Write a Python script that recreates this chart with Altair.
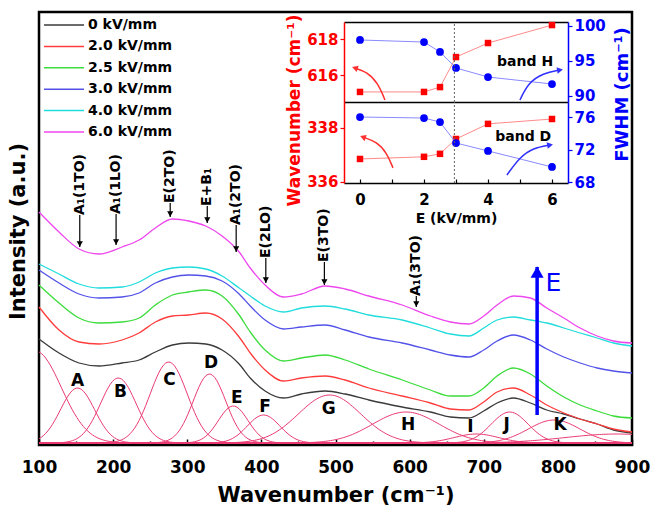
import altair as alt
import pandas as pd

FONT = "DejaVu Sans"
PLOT_W, PLOT_H = 593, 433

# ---------------- Raman spectra under increasing electric field ----------------
wavenumber = [100, 127, 154, 181, 212, 235, 257, 280, 302, 325, 347, 370, 385, 405, 430,
              454, 486, 513, 545, 590, 628, 655, 680, 700, 718, 740, 763, 785, 808, 830,
              853, 875, 900]
field_labels = ["0 kV/mm", "2.0 kV/mm", "2.5 kV/mm", "3.0 kV/mm", "4.0 kV/mm", "6.0 kV/mm"]
field_colors = ["#3a3a3a", "#ff3c3c", "#3cdc3c", "#5252e8", "#20dcdc", "#ee46ee"]

intensity_0kv = [106, 92, 82, 79, 82, 85, 93, 100, 102, 101, 95, 81, 67, 54, 47, 51, 54, 51,
                 45, 38, 33, 28, 27, 34, 42, 47, 42, 35, 31, 26, 21, 15, 12]
intensity_20kv = [138, 115, 103, 101, 105, 112, 123, 129, 130, 132, 126, 108, 92, 75, 64, 67,
                  69, 65, 57, 49, 42, 36, 35, 43, 53, 57, 50, 40, 32, 26, 21, 16, 13]
intensity_25kv = [160, 142, 127, 122, 123, 127, 140, 150, 153, 155, 149, 130, 113, 95, 84, 87,
                  90, 85, 76, 65, 55, 49, 49, 57, 69, 77, 71, 59, 48, 40, 34, 29, 27]
intensity_30kv = [175, 162, 151, 147, 148, 152, 162, 168, 170, 169, 164, 151, 139, 125, 116,
                  118, 120, 115, 108, 102, 95, 90, 88, 95, 104, 110, 105, 96, 88, 82, 77, 74, 72]
intensity_40kv = [181, 171, 161, 157, 158, 163, 172, 177, 178, 176, 169, 157, 149, 139, 133,
                  137, 139, 136, 130, 125, 117, 111, 109, 117, 125, 128, 125, 122, 117, 112,
                  107, 102, 99]
intensity_60kv = [233, 213, 196, 191, 198, 205, 217, 226, 224, 219, 209, 193, 177, 160, 148,
                  151, 159, 156, 149, 140, 129, 123, 121, 129, 140, 149, 147, 137, 127, 117,
                  109, 104, 102]

# ---------------- fitted Gaussian bands of the 0 kV/mm spectrum ----------------
band_centers = [95, 152, 207, 275, 330, 362, 403, 492, 595, 690, 735, 795, 880]
band_heights = [92, 55, 65, 81, 69, 37, 28, 48, 31, 9, 31, 23, 9]
band_widths = [35, 23, 24, 25, 22, 20, 22, 42, 45, 30, 25, 35, 70]
fit_baseline = 2

band_letters = ["A", "B", "C", "D", "E", "F", "G", "H", "I", "J", "K"]
letter_wn = [152, 210, 276, 332, 367, 405, 491, 598, 682, 731, 803]
letter_level = [64, 53, 65, 82, 47, 38, 36, 20, 18, 20, 20]

# ---------------- phonon mode assignments ----------------
mode_names = ["A₁(1TO)", "A₁(1LO)", "E(2TO)", "E+B₁", "A₁(2TO)", "E(2LO)", "E(3TO)", "A₁(3TO)"]
mode_wn = [155, 204, 277, 327, 366, 406, 485, 609]
mode_label_base = [230, 231, 242, 239, 220, 187, 183, 149]
mode_tip = [198, 200, 228, 222, 193, 162, 160, 138]

# field direction arrow
field_arrow_wn = [772]
field_arrow_start = [30]
field_arrow_end = [178]
field_text_wn = [794]
field_text_level = [162]

# ---------------- inset: band H and band D versus field ----------------
field_kv = [0, 2, 2.5, 3, 4, 6]
wn_band_H = [615.06, 615.06, 615.33, 617.0, 617.78, 618.78]
fwhm_band_H = [98.0, 97.71, 96.29, 94.0, 92.71, 91.71]
wn_band_D = [336.85, 336.93, 337.04, 337.59, 338.15, 338.33]
fwhm_band_D = [76.0, 75.88, 75.38, 72.8, 71.83, 69.85]
threshold_kv = 2.95

# curved guide arrows in the inset (field, value)
arrow_H_red_E = [0.78, 0.56, 0.22, -0.16]
arrow_H_red_v = [614.61, 615.56, 616.17, 616.39]
arrow_H_blue_E = [5.0, 5.25, 5.72, 6.25]
arrow_H_blue_v = [89.43, 91.85, 93.28, 93.71]
arrow_D_red_E = [1.03, 0.84, 0.53, 0.09]
arrow_D_red_v = [336.52, 337.07, 337.48, 337.66]
arrow_D_blue_E = [4.59, 5.0, 5.41, 5.94]
arrow_D_blue_v = [68.86, 71.08, 72.19, 72.56]

# ---------------- data tables ----------------
spectra_rows = []
for label, values in zip(field_labels, [intensity_0kv, intensity_20kv, intensity_25kv,
                                        intensity_30kv, intensity_40kv, intensity_60kv]):
    for w, v in zip(wavenumber, values):
        spectra_rows.append({"wn": w, "I": v, "field": label})
spectra_df = pd.DataFrame(spectra_rows)

bands_df = pd.DataFrame({"center": band_centers, "height": band_heights, "width": band_widths})
letters_df = pd.DataFrame({"letter": band_letters, "wn": letter_wn, "I": letter_level})
modes_df = pd.DataFrame({"name": mode_names, "wn": mode_wn, "base": mode_label_base,
                         "tip": mode_tip})
field_arrow_df = pd.DataFrame({"wn": field_arrow_wn, "start": field_arrow_start,
                               "end": field_arrow_end})
field_text_df = pd.DataFrame({"wn": field_text_wn, "I": field_text_level, "t": ["E"]})
legend_df = pd.DataFrame({"label": field_labels, "slot": list(range(len(field_labels)))})
inset_df = pd.DataFrame({"E": field_kv, "WH": wn_band_H, "FH": fwhm_band_H,
                         "WD": wn_band_D, "FD": fwhm_band_D})

# ---------------- scales ----------------
wn_scale = alt.Scale(domain=[100, 900], nice=False, zero=False)
int_scale = alt.Scale(domain=[0, PLOT_H], nice=False, zero=False)
color_scale = alt.Scale(domain=field_labels, range=field_colors)
slot_scale = alt.Scale(domain=[0, 5], range=[13, 120], nice=False, zero=False)

E_scale = alt.Scale(domain=[-0.5, 6.5], range=[305, 529], nice=False, zero=False)
WH_scale = alt.Scale(domain=[614.5, 618.95], range=[90, 10], nice=False, zero=False)
FH_scale = alt.Scale(domain=[89.14, 100.57], range=[90, 10], nice=False, zero=False)
WD_scale = alt.Scale(domain=[335.96, 338.96], range=[171, 90], nice=False, zero=False)
FD_scale = alt.Scale(domain=[67.88, 77.85], range=[171, 90], nice=False, zero=False)

RED, BLUE = "#ff0000", "#0000ff"


def wn_x(axis=None, field="wn"):
    return alt.X(f"{field}:Q", scale=wn_scale, axis=axis)


def int_y(field="I", axis=None):
    return alt.Y(f"{field}:Q", scale=int_scale, axis=axis)


# ---------------- main panel ----------------
bottom_axis = alt.Axis(orient="bottom", values=list(range(100, 901, 100)), ticks=False,
                       tickSize=0, domain=False, grid=False, labelFontSize=17,
                       labelFontWeight="bold", labelColor="black", labelPadding=14,
                       labelFlush=False, title="Wavenumber (cm⁻¹)", titleFontSize=21,
                       titleFontWeight="bold", titlePadding=9, titleColor="black")
left_axis = alt.Axis(orient="left", labels=False, ticks=False, domain=False, grid=False,
                     title="Intensity (a.u.)", titleFontSize=21, titleFontWeight="bold",
                     titleAngle=270, titleBaseline="middle", titleX=-21, titleY=219,
                     titleColor="black")
major_tick_axis = alt.Axis(orient="top", offset=-PLOT_H, values=list(range(100, 901, 100)),
                           labels=False, domain=False, grid=False, tickSize=6, tickWidth=1.5,
                           tickColor="black", title=None)
minor_tick_axis = alt.Axis(orient="top", offset=-PLOT_H, values=list(range(150, 900, 100)),
                           labels=False, domain=False, grid=False, tickSize=4, tickWidth=1.5,
                           tickColor="black", title=None)

components = alt.Chart(bands_df).transform_calculate(
    wn="sequence(100, 902, 3)"
).transform_flatten(["wn"]).transform_calculate(
    I=f"{fit_baseline} + datum.height * exp(-pow(datum.wn - datum.center, 2)"
      " / (2 * datum.width * datum.width))"
).mark_line(color="#ea3a72", strokeWidth=1, clip=True).encode(
    x=wn_x(major_tick_axis), y=int_y(), detail="center:N"
)

spectra = alt.Chart(spectra_df).mark_line(strokeWidth=1.3, interpolate="monotone").encode(
    x=wn_x(bottom_axis), y=int_y(axis=left_axis),
    color=alt.Color("field:N", scale=color_scale, legend=None),
    detail="field:N"
)

letters = alt.Chart(letters_df).mark_text(fontSize=17, fontWeight="bold", color="black",
                                          baseline="middle").encode(
    x=wn_x(minor_tick_axis), y=int_y(), text="letter:N"
)

mode_text = alt.Chart(modes_df).mark_text(angle=270, align="left", baseline="middle",
                                          fontSize=14, fontWeight="bold",
                                          color="black").encode(
    x=wn_x(), y=int_y("base"), text="name:N"
)
mode_shaft = alt.Chart(modes_df).mark_rule(color="black", strokeWidth=1.2).encode(
    x=wn_x(), y=int_y("base"), y2=alt.Y2("tip:Q")
)
mode_head = alt.Chart(modes_df).mark_point(shape="triangle-down", filled=True, size=38,
                                           color="black", opacity=1, yOffset=-3).encode(
    x=wn_x(), y=int_y("tip")
)

field_shaft = alt.Chart(field_arrow_df).mark_rule(color=BLUE, strokeWidth=3.5).encode(
    x=wn_x(), y=int_y("start"), y2=alt.Y2("end:Q")
)
field_head = alt.Chart(field_arrow_df).mark_point(shape="triangle-up", filled=True, size=170,
                                                  color=BLUE, opacity=1, yOffset=5).encode(
    x=wn_x(), y=int_y("end")
)
field_text = alt.Chart(field_text_df).mark_text(fontSize=25, color=BLUE,
                                                baseline="middle").encode(
    x=wn_x(), y=int_y(), text="t:N"
)

legend_lines = alt.Chart(legend_df).mark_rule(strokeWidth=1.5).encode(
    x=alt.value(5), x2=alt.value(45),
    y=alt.Y("slot:Q", scale=slot_scale, axis=None),
    color=alt.Color("label:N", scale=color_scale, legend=None)
)
legend_text = alt.Chart(legend_df).mark_text(align="left", baseline="middle", fontSize=14,
                                             fontWeight="bold", color="black").encode(
    x=alt.value(49), y=alt.Y("slot:Q", scale=slot_scale, axis=None), text="label:N"
)

# ---------------- inset ----------------
def frame_axis(offset):
    return alt.Axis(orient="top", offset=offset, labels=False, ticks=False, grid=False,
                    domainColor="black", domainWidth=1.5, title=None)


inset_x_labels = alt.Axis(orient="bottom", offset=171 - PLOT_H, values=[0, 2, 4, 6],
                          ticks=False, tickSize=0, grid=False, domainColor="black",
                          domainWidth=1.5, labelFontSize=15, labelFontWeight="bold",
                          labelColor="black", labelPadding=9, labelFlush=False,
                          title="E (kV/mm)", titleFontSize=14, titleFontWeight="bold",
                          titlePadding=4, titleColor="black")
inset_x_ticks = alt.Axis(orient="top", offset=-171, values=[0, 1, 2, 3, 4, 5, 6],
                         labels=False, domain=False, grid=False, tickSize=4, tickWidth=1.2,
                         tickColor="black", title=None)


def side_axis(orient, values, color, title=None, title_x=None, title_y=None,
              title_size=17, size=15):
    kw = dict(orient=orient, offset=-305 if orient == "left" else 529 - PLOT_W,
              values=values, format="d", grid=False, domainColor=color, domainWidth=1.5,
              tickColor=color, tickSize=4, tickWidth=1.2, labelColor=color,
              labelFontSize=size, labelFontWeight="bold", labelPadding=2)
    if title is None:
        kw["title"] = None
    else:
        kw.update(title=title, titleColor=color, titleFontWeight="bold", titleAngle=270,
                  titleFontSize=title_size, titleBaseline="middle", titleX=title_x,
                  titleY=title_y)
    return alt.Axis(**kw)


def inset_series(field, scale, line_color, mark_color, shape, size, x_axis, y_axis):
    base = alt.Chart(inset_df)
    line = base.mark_line(color=line_color, strokeWidth=1).encode(
        x=alt.X("E:Q", scale=E_scale, axis=None),
        y=alt.Y(f"{field}:Q", scale=scale, axis=None))
    pts = base.mark_point(shape=shape, filled=True, size=size, color=mark_color,
                          opacity=1).encode(
        x=alt.X("E:Q", scale=E_scale, axis=x_axis),
        y=alt.Y(f"{field}:Q", scale=scale, axis=y_axis))
    return [line, pts]


inset_layers = []
inset_layers += inset_series(
    "WH", WH_scale, "#ff8a8a", RED, "square", 42, frame_axis(-10),
    side_axis("left", [616, 618], RED, "Wavenumber (cm⁻¹)", -50, 98, 17))
inset_layers += inset_series(
    "FH", FH_scale, "#8a8aff", BLUE, "circle", 60, frame_axis(-90),
    side_axis("right", [90, 95, 100], BLUE, "FWHM (cm⁻¹)", 54, 82, 18))
inset_layers += inset_series(
    "WD", WD_scale, "#ff8a8a", RED, "square", 42, inset_x_labels,
    side_axis("left", [336, 338], RED))
inset_layers += inset_series(
    "FD", FD_scale, "#8a8aff", BLUE, "circle", 60, inset_x_ticks,
    side_axis("right", [68, 72, 76], BLUE))

threshold_df = pd.DataFrame({"E": [threshold_kv], "h0": [WH_scale.domain[0]],
                             "h1": [WH_scale.domain[1]], "d0": [WD_scale.domain[0]],
                             "d1": [WD_scale.domain[1]]})
for lo, hi, sc in [("h0", "h1", WH_scale), ("d0", "d1", WD_scale)]:
    inset_layers.append(
        alt.Chart(threshold_df).mark_rule(color="#666666", strokeWidth=1,
                                          strokeDash=[2, 2]).encode(
            x=alt.X("E:Q", scale=E_scale, axis=None),
            y=alt.Y(f"{lo}:Q", scale=sc, axis=None), y2=alt.Y2(f"{hi}:Q")))


def guide_arrow(e_vals, v_vals, scale, color, head_shape, head_angle):
    df = pd.DataFrame({"E": e_vals, "v": v_vals, "step": list(range(len(e_vals)))})
    curve = alt.Chart(df).mark_line(color=color, strokeWidth=1.5, interpolate="basis").encode(
        x=alt.X("E:Q", scale=E_scale, axis=None),
        y=alt.Y("v:Q", scale=scale, axis=None), order="step:Q")
    head = alt.Chart(df.tail(1)).mark_point(shape=head_shape, filled=True, size=45,
                                            color=color, opacity=1,
                                            angle=head_angle).encode(
        x=alt.X("E:Q", scale=E_scale, axis=None),
        y=alt.Y("v:Q", scale=scale, axis=None))
    return [curve, head]


inset_layers += guide_arrow(arrow_H_red_E, arrow_H_red_v, WH_scale, "#ff3030",
                            "triangle-left", 18)
inset_layers += guide_arrow(arrow_H_blue_E, arrow_H_blue_v, FH_scale, "#3030ff",
                            "triangle-right", 350)
inset_layers += guide_arrow(arrow_D_red_E, arrow_D_red_v, WD_scale, "#ff3030",
                            "triangle-left", 20)
inset_layers += guide_arrow(arrow_D_blue_E, arrow_D_blue_v, FD_scale, "#3030ff",
                            "triangle-right", 350)

band_tags_df = pd.DataFrame({"E": [5.16, 5.1], "tag": ["band H", "band D"],
                             "WH": [616.72, None], "WD": [None, 337.66]})
inset_layers.append(
    alt.Chart(band_tags_df.iloc[[0]]).mark_text(fontSize=14, fontWeight="bold",
                                                color="black").encode(
        x=alt.X("E:Q", scale=E_scale, axis=None),
        y=alt.Y("WH:Q", scale=WH_scale, axis=None), text="tag:N"))
inset_layers.append(
    alt.Chart(band_tags_df.iloc[[1]]).mark_text(fontSize=14, fontWeight="bold",
                                                color="black").encode(
        x=alt.X("E:Q", scale=E_scale, axis=None),
        y=alt.Y("WD:Q", scale=WD_scale, axis=None), text="tag:N"))

chart = alt.layer(
    components, spectra, letters, mode_shaft, mode_head, mode_text,
    field_shaft, field_head, field_text, legend_lines, legend_text,
    *inset_layers
).resolve_scale(
    x="independent", y="independent", color="independent"
).properties(
    width=PLOT_W, height=PLOT_H, autosize="none",
    padding={"left": 39, "top": 12, "right": 656 - 39 - PLOT_W, "bottom": 512 - 12 - PLOT_H}
).configure(
    font=FONT
).configure_view(
    stroke="black", strokeWidth=2.5
)

chart.save("out.html", embed_options={"renderer": "svg", "actions": False})
